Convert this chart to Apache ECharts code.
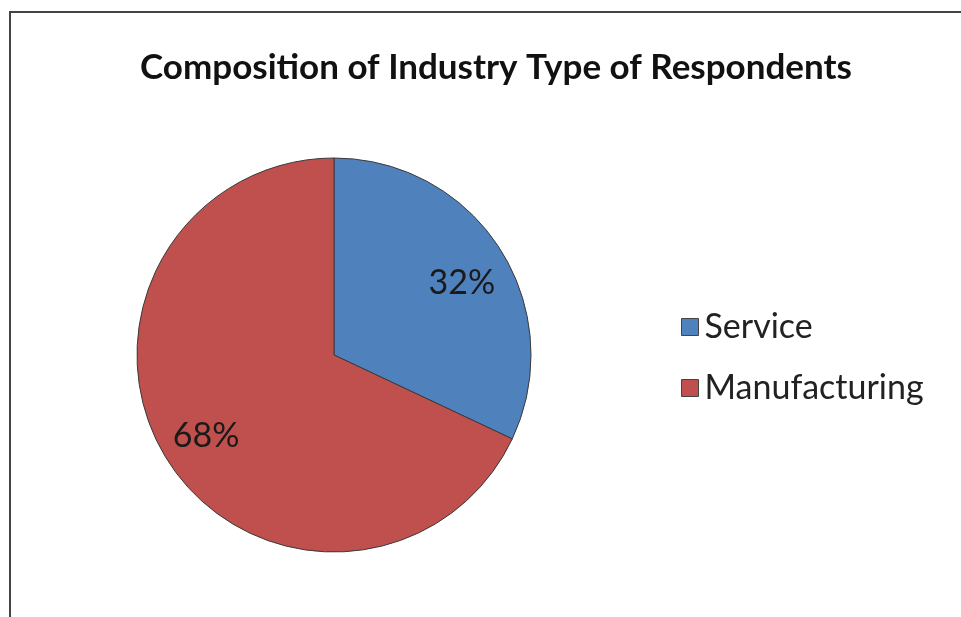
<!DOCTYPE html>
<html>
<head>
<meta charset="utf-8">
<script src="https://cdn.jsdelivr.net/npm/echarts@6/dist/echarts.min.js"></script>
<style>
  html, body { margin: 0; padding: 0; background: #fff; }
  #chart { width: 961px; height: 617px; }
</style>
</head>
<body>
<div id="chart"></div>
<script>
// Industry type share of survey respondents (percent)
const categories = ['Service', 'Manufacturing'];
const shares = [32, 68];
const sliceColors = ['#4F81BD', '#C0504D'];

const FONT = 'Lato, "Open Sans", sans-serif';
const center = [334, 355];
const outerR = 197;

const pieData = categories.map((name, i) => ({
  name,
  value: shares[i],
  itemStyle: { color: sliceColors[i] }
}));

// extra blank line height above each percentage label (pushes it down a little)
const labelDrop = [18, 0];

const chart = echarts.init(document.getElementById('chart'), null, { renderer: 'canvas' });

chart.setOption({
  backgroundColor: '#ffffff',
  animation: false,
  title: {
    text: 'Composition of Industry Type of Respondents',
    left: 491,
    top: 45,
    textAlign: 'center',
    textStyle: { fontFamily: FONT, fontWeight: 'bold', fontSize: 35, color: '#111' }
  },
  legend: {
    orient: 'vertical',
    left: 676,
    top: 305,
    itemWidth: 17,
    itemHeight: 17,
    itemGap: 27,
    icon: 'rect',
    data: categories,
    itemStyle: { borderColor: '#444', borderWidth: 1 },
    textStyle: { fontFamily: FONT, fontSize: 34, color: '#222', padding: [0, 0, 0, 1] }
  },
  graphic: [{
    type: 'rect',
    shape: { x: 10, y: 12, width: 1000, height: 700 },
    style: { fill: 'none', stroke: '#444', lineWidth: 2 },
    silent: true
  }],
  series: [
    {
      type: 'pie',
      center,
      radius: [0, outerR],
      startAngle: 90,
      clockwise: true,
      silent: true,
      label: { show: false },
      labelLine: { show: false },
      itemStyle: { borderColor: '#3a3a3a', borderWidth: 1 },
      data: pieData
    },
    {
      // transparent ring that positions the percentage labels
      type: 'pie',
      center,
      radius: [100, outerR],
      startAngle: 90,
      clockwise: true,
      silent: true,
      legendHoverLink: false,
      itemStyle: { color: 'transparent', borderWidth: 0 },
      label: {
        show: true,
        position: 'inside',
        formatter: p => (labelDrop[p.dataIndex] ? '{gap|}\n' : '') + '{v|' + p.value + '%}',
        rich: {
          v: { fontFamily: FONT, fontSize: 34, color: '#1a1a1a' },
          gap: { fontSize: 1, lineHeight: labelDrop[0] }
        }
      },
      labelLine: { show: false },
      data: categories.map((name, i) => ({ name: name + ' ', value: shares[i] }))
    }
  ]
});
</script>
</body>
</html>
